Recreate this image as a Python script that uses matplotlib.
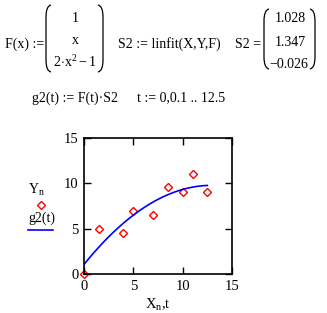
import numpy as np
import matplotlib
matplotlib.use('Agg')
import matplotlib.pyplot as plt
from matplotlib.path import Path
from matplotlib.patches import PathPatch

plt.rcParams['font.family'] = ['Liberation Serif', 'DejaVu Serif']
plt.rcParams['mathtext.fontset'] = 'custom'
plt.rcParams['mathtext.rm'] = 'Liberation Serif'
plt.rcParams['mathtext.it'] = 'Liberation Serif'

# data points
X = [0, 1.5, 4, 5, 7, 8.5, 10, 11, 12.5]
Y = [0, 5, 4.5, 7, 6.5, 9.6, 9, 11, 9]
# fitted coefficients shown as S2
S2 = [1.028, 1.347, -0.026]
t = np.arange(0, 12.5 + 0.05, 0.1)
g2 = S2[0] + S2[1] * t + S2[2] * (2 * t**2 - 1)

W, H = 327, 313
fig = plt.figure(figsize=(W / 100, H / 100), dpi=100)
fig.patch.set_facecolor('white')

# overlay in pixel coordinates for the worksheet text
ov = fig.add_axes([0, 0, 1, 1])
ov.set_xlim(0, W)
ov.set_ylim(H, 0)
ov.axis('off')

fs = 10


def txt(x, y, s, ha='left', **kw):
    ov.text(x, y, s, ha=ha, va='center', fontsize=fs, **kw)


def paren(xo, xi, top, bot):
    verts = [(xi, top), (xo, top + 1), (xo, top + 12), (xo, bot - 12), (xo, bot - 1), (xi, bot)]
    codes = [Path.MOVETO, Path.CURVE3, Path.CURVE3, Path.LINETO, Path.CURVE3, Path.CURVE3]
    ov.add_patch(PathPatch(Path(verts, codes), fill=False, lw=0.9, color='black'))


txt(5, 44, 'F(x) :=')
paren(46, 51, 5, 72)
paren(103, 98, 5, 72)
txt(75, 19, '1', ha='center')
txt(75, 41, 'x', ha='center')
txt(75, 62, r'$\mathrm{2\!\cdot\!x^2 - 1}$', ha='center')
txt(118, 44, 'S2 := linfit(X,Y,F)')
txt(235, 44, 'S2 =')
paren(264, 269, 9, 69)
paren(315, 310, 9, 69)
txt(290, 19, '1.028', ha='center')
txt(290, 42, '1.347', ha='center')
txt(289, 65, '\u22120.026', ha='center')
txt(32, 98, 'g2(t) := F(t)\u00b7S2')
txt(137, 98, 't := 0,0.1 .. 12.5')

# legend in Mathcad style
txt(28, 190, r'$\mathrm{Y_n}$')
ov.plot([41], [205], 'D', ms=4.5, mfc='none', mec='red', mew=1)
txt(28, 218, 'g2(t)')
ov.plot([28, 53], [230, 230], color='blue', lw=1.2)

# plot
ax = fig.add_axes([84 / W, (H - 274) / H, 148 / W, 136 / H])
ax.plot(X, Y, 'D', ms=4.5, mfc='none', mec='red', mew=1, clip_on=False)
ax.plot(t, g2, color='blue', lw=1.2)
ax.set_xlim(0, 15)
ax.set_ylim(0, 15)
ax.set_xticks([0, 5, 10, 15])
ax.set_yticks([0, 5, 10, 15])
ax.tick_params(direction='in', length=5, width=1, top=True, right=True,
               labelsize=10.5, pad=4)
for s in ax.spines.values():
    s.set_linewidth(1.2)
ax.set_xlabel(r'$\mathrm{X_n}$,t', fontsize=10.5, labelpad=3)

fig.savefig('out.png', dpi=100, facecolor='white')
